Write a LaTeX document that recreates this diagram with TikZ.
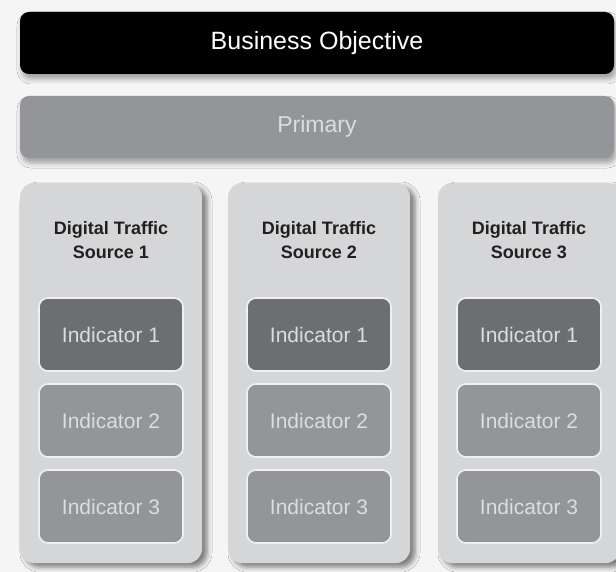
\documentclass[tikz,border=0pt]{standalone}
\usepackage{fontspec}
\setmainfont{Liberation Sans}
\usetikzlibrary{positioning,shadows.blur}

\definecolor{primgray}{HTML}{939598}
\definecolor{darkind}{HTML}{6D6E71}
\definecolor{srcgray}{HTML}{D5D6D8}
\definecolor{titletext}{HTML}{231F20}
\definecolor{lighttext}{HTML}{DCDDDE}
\definecolor{backgray}{HTML}{F5F5F5}

\begin{document}
\begin{tikzpicture}[x=1pt,y=-1pt]
    \tikzset{
        goal/.style = {rectangle, fill=black, text=white, rounded corners=9pt, minimum width=594pt, minimum height=62pt, outer sep=0pt, font=\fontsize{25}{28}\selectfont, blur shadow={shadow xshift=2pt, shadow yshift=-5pt, shadow blur radius=5pt, shadow opacity=35}},
        primary/.style = {goal, fill=primgray, text=lighttext, font=\fontsize{23}{28}\selectfont},
        source/.style = {rectangle, fill=srcgray, rounded corners=14pt, minimum width=182pt, minimum height=380pt, outer sep=0pt, blur shadow={shadow xshift=5pt, shadow yshift=-4pt, shadow blur radius=5pt, shadow opacity=50}},
        srctitle/.style = {align=center, inner sep=0pt, text=titletext, font=\fontsize{18}{24}\selectfont\bfseries},
        indicator/.style = {rectangle, draw=white!94!black, line width=1.6pt, fill=primgray, text=lighttext, rounded corners=9pt, minimum width=144pt, minimum height=73pt, outer sep=0pt, font=\fontsize{21}{24}\selectfont},
        topind/.style = {indicator, fill=darkind},
    }

    \useasboundingbox[fill=backgray] (0,0) rectangle (616,572);

    \node[goal](objective) at (317,43) {Business Objective};
    \node[primary](prim)[below = 22pt of objective]{Primary};

    % traffic sources
    \node[source](src1) at (111,373) {};
    \node[source](src2)[right = 26pt of src1]{};
    \node[source](src3)[right = 28pt of src2]{};

    \node[srctitle](title1)[below = 38pt of src1.north]{Digital Traffic\\Source 1};
    \node[srctitle](title2)[below = 38pt of src2.north]{Digital Traffic\\Source 2};
    \node[srctitle](title3)[below = 38pt of src3.north]{Digital Traffic\\Source 3};

    % indicators
    \node[topind](ind11)[below = 115pt of src1.north]{Indicator 1};
    \node[indicator](ind12)[below = 13pt of ind11]{Indicator 2};
    \node[indicator](ind13)[below = 13pt of ind12]{Indicator 3};

    \node[topind](ind21)[below = 115pt of src2.north]{Indicator 1};
    \node[indicator](ind22)[below = 13pt of ind21]{Indicator 2};
    \node[indicator](ind23)[below = 13pt of ind22]{Indicator 3};

    \node[topind](ind31)[below = 115pt of src3.north]{Indicator 1};
    \node[indicator](ind32)[below = 13pt of ind31]{Indicator 2};
    \node[indicator](ind33)[below = 13pt of ind32]{Indicator 3};

\end{tikzpicture}
\end{document}
